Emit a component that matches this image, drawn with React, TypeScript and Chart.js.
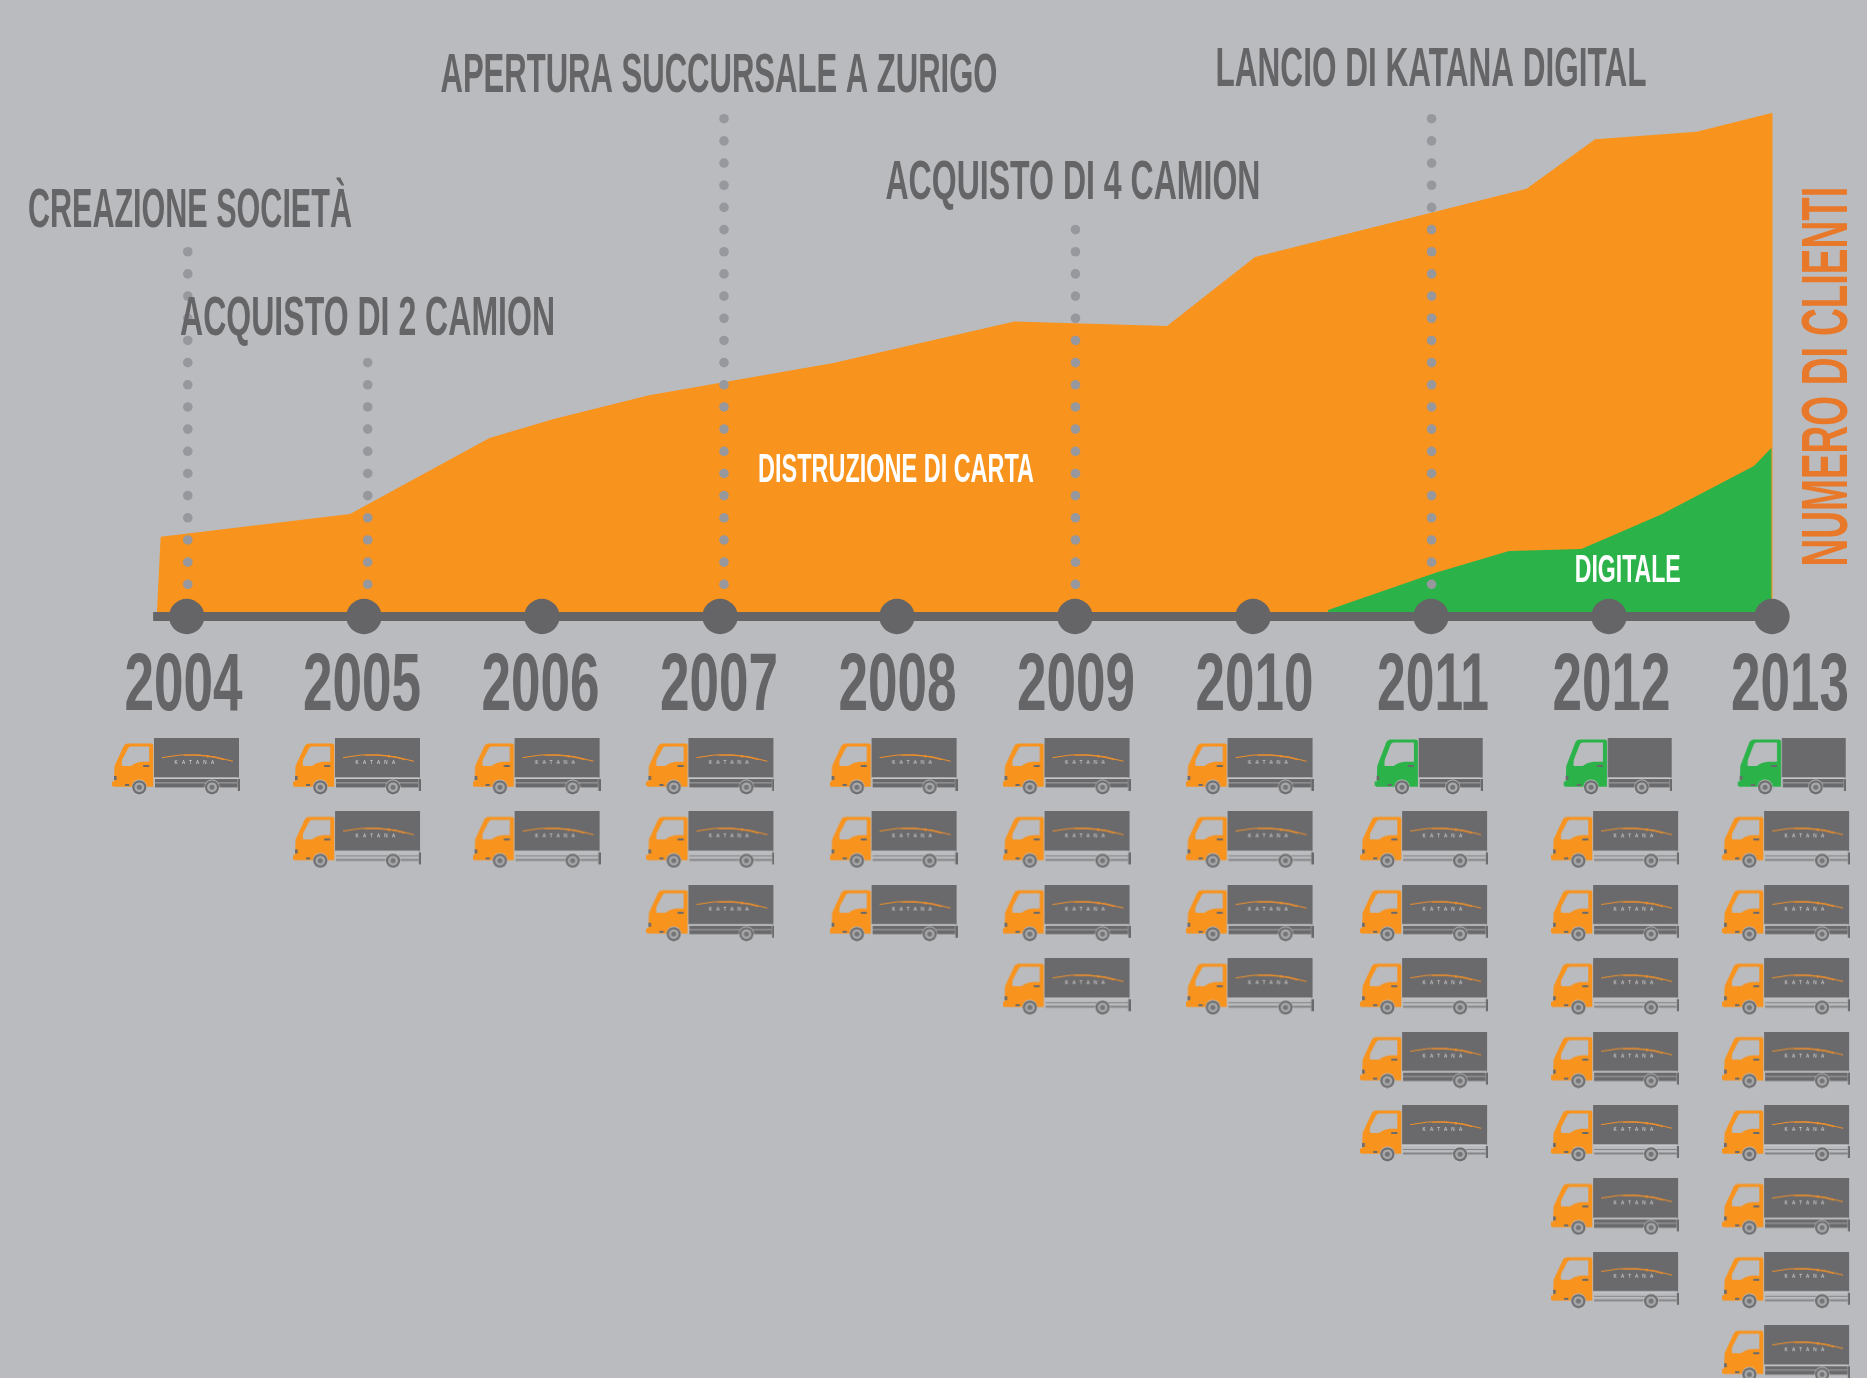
import React, { useEffect, useRef } from "react";
import { Chart, registerables } from "chart.js";

Chart.register(...registerables);

// ---------- data ----------
const years = [2004, 2005, 2006, 2007, 2008, 2009, 2010, 2011, 2012, 2013];
const yearMarkerX = [2004.018, 2005.011, 2006.008, 2007.006, 2007.997, 2008.994, 2009.992, 2010.989, 2011.986, 2012.899];

const paperX = [2003.85, 2003.872, 2004.933, 2005.714, 2006.074, 2006.608, 2007.641, 2008.655, 2009.51, 2010.003, 2011.524, 2011.908, 2012.477, 2012.903];
const paperY = [0, 15.96, 20.5, 35.7, 39.5, 44.24, 50.7, 59, 58.1, 71.9, 85.56, 95.44, 96.96, 100.76];

const digitalX = [2010.412, 2011.015, 2011.426, 2011.831, 2012.281, 2012.798, 2012.897];
const digitalY = [1.3, 8.76, 13.1, 13.5, 20.44, 30.1, 33.76];

const milestoneLabels = ["CREAZIONE SOCIETÀ", "ACQUISTO DI 2 CAMION", "APERTURA SUCCURSALE A ZURIGO", "ACQUISTO DI 4 CAMION", "LANCIO DI KATANA DIGITAL"];
const milestoneLabelX = [2004.036, 2005.031, 2007.0, 2008.983, 2010.989];
const milestoneLabelY = [77.94, 56.36, 104.9, 83.5, 106.1];
const milestoneLabelWidth = [324, 375, 557, 375, 431];
const milestoneDotX = [2004.024, 2005.032, 2007.028, 2008.997, 2010.992];
const milestoneDotCount = [16, 11, 22, 17, 22];
const milestoneDotBottom = 6.44;
const milestoneDotStep = 4.434;

const orangeTruckCounts = [1, 2, 2, 3, 3, 4, 4, 5, 7, 8];
const greenTruckCounts = [0, 0, 0, 0, 0, 0, 0, 1, 1, 1];
const orangeTruckX = [2003.958, 2004.972, 2005.978, 2006.952, 2007.978, 2008.947, 2009.972, 2010.95, 2012.02, 2012.978];
const greenTruckX = [0, 0, 0, 0, 0, 0, 0, 2010.972, 2012.031, 2013.006];

// ---------- styling ----------
const BG = "#babbbe";
const ORANGE = "#f8931d";
const GREEN = "#2bb34a";
const DARK = "#656567";
const BOX = "#6a6a6c";
const DOT = "#97989d";
const FONT = '"Liberation Sans Narrow", "Liberation Sans", sans-serif';

function makeTruck(cab: string, green: boolean, thinRails: boolean) {
  const W = green ? 110 : 128;
  const c = document.createElement("canvas");
  c.width = W;
  c.height = 57;
  const g = c.getContext("2d")!;
  const cabTop = green ? 1.5 : 5.5;
  const boxX = green ? 45.7 : 42;
  const boxR = green ? 109.7 : 127;
  const railR = W - 2.5;
  const cabR = boxX - 0.8;
  const w1 = green ? 29 : 27.3;
  const w2 = green ? 79.7 : 100;
  const o = green ? 1.7 : 0;

  // box
  g.fillStyle = BOX;
  g.fillRect(boxX, 0, boxR - boxX, 39.5);
  // chassis
  g.fillStyle = "#c9cacc";
  g.fillRect(boxX, 39.6, railR - boxX, 1.2);
  if (thinRails) {
    g.fillStyle = "#858587";
    g.fillRect(boxX + 1, 44, railR - boxX - 1, 1);
    g.fillRect(boxX + 1, 47.5, railR - boxX - 1, 2);
  } else {
    g.fillStyle = BOX;
    g.fillRect(boxX + 1, 41, railR - boxX - 1, 8.4);
    g.fillStyle = "#8e8e90";
    g.fillRect(boxX + 1, 44, railR - boxX - 1, 1.6);
  }
  g.fillStyle = BOX;
  g.fillRect(W - 2.2, 41, 2.2, 12);

  // cab
  g.fillStyle = cab;
  g.beginPath();
  g.moveTo(cabR - 2, cabTop);
  g.lineTo(16 + o, cabTop);
  g.quadraticCurveTo(13 + o, cabTop, 11.5 + o, cabTop + 3);
  g.lineTo(2.5 + o, 28);
  g.lineTo(2 + o, 43.5);
  g.lineTo(0 + o, 43.5);
  g.lineTo(0 + o, 48);
  g.lineTo(1.5 + o, 48);
  g.lineTo(1.5 + o, 49.5);
  g.lineTo(2.5 + o, 48.7);
  g.lineTo(cabR, 48.7);
  g.lineTo(cabR, cabTop + 2);
  g.quadraticCurveTo(cabR, cabTop, cabR - 2, cabTop);
  g.closePath();
  g.fill();

  // window
  const t = cabTop + 3;
  const wR = cabR - 4;
  g.fillStyle = BG;
  g.beginPath();
  g.moveTo(wR, t);
  g.lineTo(19 + o, t);
  g.quadraticCurveTo(17 + o, t, 16 + o, t + 2);
  g.lineTo(10 + o, 22);
  g.lineTo(9.7 + o, 27);
  g.quadraticCurveTo(9.7 + o, 28, 11 + o, 28);
  g.lineTo(19 + o, 28);
  g.quadraticCurveTo(24 + o, 24, 30 + o, 23.7);
  g.lineTo(wR, 23.7);
  g.closePath();
  g.fill();

  // small cab details
  g.fillStyle = BOX;
  g.fillRect(wR - 6, 27, 6, 2);
  g.fillRect(2 + o, 38, 2.6, 4);
  g.fillRect(13 + o, 46, 4.2, 2);

  // wheels
  for (const x of [w1, w2]) {
    g.fillStyle = "#c4c5c7";
    g.beginPath(); g.arc(x, 49.3, 7.7, 0, Math.PI * 2); g.fill();
    g.fillStyle = "#6e6e70";
    g.beginPath(); g.arc(x, 49.3, 7.1, 0, Math.PI * 2); g.fill();
    g.fillStyle = "#a8a9ab";
    g.beginPath(); g.arc(x, 49.3, 4.9, 0, Math.PI * 2); g.fill();
    g.fillStyle = "#757577";
    g.beginPath(); g.arc(x, 49.3, 2.5, 0, Math.PI * 2); g.fill();
  }

  // logo
  if (!green) {
    g.strokeStyle = "#f0902a";
    g.lineWidth = 1;
    g.beginPath(); g.moveTo(50, 19.7); g.quadraticCurveTo(85, 12, 121, 23.3); g.stroke();
    g.beginPath(); g.moveTo(72, 17.2); g.quadraticCurveTo(95, 16.5, 112, 21.8); g.stroke();
    g.fillStyle = "#f0902a";
    g.fillRect(95, 17, 1.6, 2.5);
    g.fillStyle = "#e2e2e4";
    g.font = "4.6px 'Liberation Sans', sans-serif";
    g.textAlign = "center";
    (g as any).letterSpacing = "4.4px";
    g.fillText("KATANA", 84.5, 25.6);
  }
  return c;
}

function fittedText(ctx: CanvasRenderingContext2D, text: string, x: number, y: number, width: number, capH: number, color: string, rotate = 0) {
  const size = capH / 0.716;
  ctx.save();
  ctx.font = `bold ${size}px ${FONT}`;
  const m = ctx.measureText(text).width;
  ctx.translate(x, y);
  if (rotate) ctx.rotate(rotate);
  ctx.scale(width / m, 1);
  ctx.fillStyle = color;
  ctx.textAlign = "center";
  ctx.textBaseline = "alphabetic";
  ctx.fillText(text, 0, 0);
  ctx.restore();
}

const textPlugin = {
  id: "chartText",
  afterDatasetsDraw(chart: any) {
    const { ctx, scales } = chart;
    const X = (v: number) => scales.x.getPixelForValue(v);
    const Y = (v: number) => scales.y.getPixelForValue(v);
    milestoneLabels.forEach((t, i) => fittedText(ctx, t, X(milestoneLabelX[i]), Y(milestoneLabelY[i]), milestoneLabelWidth[i], 40, DARK));
    years.forEach((yr) => fittedText(ctx, String(yr), X(yr), Y(-18.7), yr === 2011 ? 112 : 118, 58, DARK));
    fittedText(ctx, "DISTRUZIONE DI CARTA", X(2007.992), Y(26.82), 276, 28.5, "#ffffff");
    fittedText(ctx, "DIGITALE", X(2012.091), Y(6.9), 106, 28, "#ffffff");
    fittedText(ctx, "NUMERO DI CLIENTI", X(2013.319), Y(47.98), 380, 46, "#e8792a", -Math.PI / 2);
  },
};

export default function App() {
  const ref = useRef<HTMLCanvasElement>(null);
  useEffect(() => {
    document.body.style.margin = "0";
    document.body.style.background = BG;

    const orangeA = makeTruck(ORANGE, false, false);
    const orangeB = makeTruck(ORANGE, false, true);
    const greenTruck = makeTruck(GREEN, true, false);

    const orangePts: { x: number; y: number }[] = [];
    const greenPts: { x: number; y: number }[] = [];
    years.forEach((_, i) => {
      const start = greenTruckCounts[i] > 0 ? 2 : 1;
      for (let k = 0; k < orangeTruckCounts[i]; k++) orangePts.push({ x: orangeTruckX[i], y: start + k });
      if (greenTruckCounts[i] > 0) greenPts.push({ x: greenTruckX[i], y: 1 });
    });

    const dotPts: { x: number; y: number }[] = [];
    milestoneDotX.forEach((x, i) => {
      for (let k = 0; k < milestoneDotCount[i]; k++) dotPts.push({ x, y: milestoneDotBottom + k * milestoneDotStep });
    });

    const chart = new Chart(ref.current!, {
      type: "line",
      data: {
        datasets: [
          {
            label: "Distruzione di carta",
            data: paperX.map((x, i) => ({ x, y: paperY[i] })),
            backgroundColor: ORANGE,
            borderWidth: 0,
            fill: "origin",
            pointRadius: 0,
            tension: 0,
            order: 6,
          },
          {
            label: "Digitale",
            data: digitalX.map((x, i) => ({ x, y: digitalY[i] })),
            backgroundColor: GREEN,
            borderWidth: 0,
            fill: "origin",
            pointRadius: 0,
            tension: 0,
            order: 5,
          },
          {
            label: "Tappe",
            data: dotPts,
            showLine: false,
            pointRadius: 4.8,
            pointBackgroundColor: DOT,
            pointBorderWidth: 0,
            order: 3,
          },
          {
            label: "Asse",
            data: [{ x: 2003.83, y: 0 }, { x: 2012.899, y: 0 }],
            borderColor: DARK,
            borderWidth: 9,
            borderCapStyle: "butt",
            pointRadius: 0,
            order: 2,
          },
          {
            label: "Anni",
            data: yearMarkerX.map((x) => ({ x, y: 0 })),
            showLine: false,
            pointRadius: 17.7,
            pointBackgroundColor: DARK,
            pointBorderWidth: 0,
            order: 1,
          },
          {
            label: "Camion",
            data: orangePts,
            yAxisID: "yRows",
            showLine: false,
            pointRadius: 1,
            pointStyle: (c: any) => (c.raw && c.raw.y % 2 === 0 ? orangeB : orangeA),
            order: 1,
          },
          {
            label: "Camion digitali",
            data: greenPts,
            yAxisID: "yRows",
            showLine: false,
            pointRadius: 1,
            pointStyle: greenTruck,
            order: 1,
          },
        ] as any,
      },
      options: {
        responsive: false,
        animation: false,
        devicePixelRatio: 1,
        layout: { padding: 0, autoPadding: false },
        plugins: { legend: { display: false }, tooltip: { enabled: false } },
        events: [],
        scales: {
          x: { type: "linear", display: false, min: 2004 - 183.5 / 178.5, max: 2004 + (1867 - 183.5) / 178.5 },
          y: { type: "linear", display: false, min: (616.5 - 1378) / 5, max: 616.5 / 5 },
          yRows: { type: "linear", axis: "y", display: false, reverse: true, min: 1 - 766.5 / 73.4, max: 1 + (1378 - 766.5) / 73.4 },
        },
      } as any,
      plugins: [textPlugin],
    });
    return () => chart.destroy();
  }, []);
  return <canvas ref={ref} width={1867} height={1378} style={{ display: "block", background: BG }} />;
}
